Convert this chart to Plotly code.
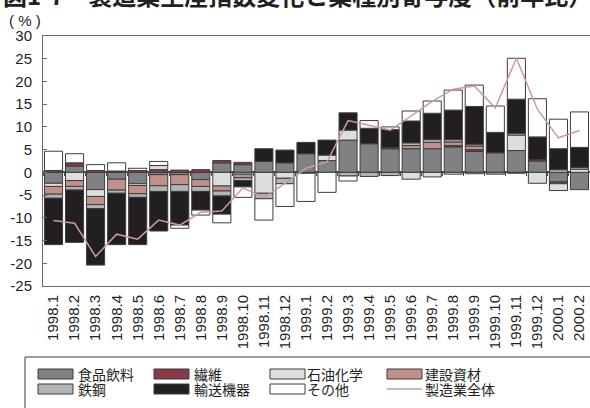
import plotly.graph_objects as go

# ---- data -------------------------------------------------------------
categories = ["1998.1", "1998.2", "1998.3", "1998.4", "1998.5", "1998.6",
              "1998.7", "1998.8", "1998.9", "1998.10", "1998.11", "1998.12",
              "1999.1", "1999.2", "1999.3", "1999.4", "1999.5", "1999.6",
              "1999.7", "1999.8", "1999.9", "1999.10", "1999.11", "1999.12",
              "2000.1", "2000.2"]

food = [-2.4, 1.4, -3.8, -1.5, -2.5, -0.5, -0.5, -1.6, 2.1, 1.7, 2.4, 2.1,
        4.1, 2.6, 7.1, 6.3, 5.2, 5.2, 5.2, 5.6, 4.6, 4.3, 4.8, 2.5, -2.1, -3.8]
textile = [0.4, 0.7, 0.4, 0.3, 0.4, 0.6, 0.5, 0.6, 0.5, 0.5, 0, 0,
           0, 0, 0, 0, 0.3, 0, 0, 0.3, 0.4, 0, 0, 0.3, -0.4, 0]
petrochem = [-0.7, -1.8, -1.5, 0, -0.4, 0.9, 0, 0, -3.0, -0.4, -4.6, -1.3,
             0, 1.2, 2.2, 0, 0, -1.5, -1.0, -0.4, -0.3, 0, 3.4, -2.4, -1.5, 0.7]
construction = [-1.7, -1.3, -1.8, -2.4, -1.8, -2.45, -2.2, -1.5, -1.1, -0.8, 0, 0,
                0, 0, 0, 0, 0, 0.7, 1.4, 0.8, 0.8, 0, -0.2, 0, 0, 0]
steel = [-0.9, -0.8, -0.9, -0.7, -0.8, -1.25, -1.5, -1.1, -1.1, -0.6, -1.2, -1.2,
         -0.2, 0, -0.8, -0.9, -0.7, 0.6, 0.6, 0.5, 0.4, -0.4, 0.4, 0, 0.6, 0.4]
transport = [-10.2, -11.5, -12.4, -11.3, -10.4, -8.7, -7.4, -4.1, -4.0, -1.4, 2.8, 2.8,
             2.5, 3.3, 3.8, 3.4, 3.9, 4.8, 5.8, 6.5, 8.3, 4.5, 7.5, 5.0, 4.6, 4.4]
other = [4.25, 2.0, 1.3, 1.8, 0.5, 0.9, -0.7, -1.1, -1.9, -2.3, -4.7, -5.0,
         -6.2, -4.4, -1.1, 1.7, 0.6, 2.2, 2.7, 4.4, 4.7, 5.8, 9.0, 8.4, 6.5, 7.8]
manufacturing_total = [-10.6, -11.2, -18.5, -13.6, -14.7, -10.5, -11.6, -8.8, -8.5,
                       -3.4, -5.5, -2.4, 0.9, 2.3, 11.4, 10.4, 9.3, 12.4, 15.6,
                       18.3, 19.0, 14.2, 25.1, 13.9, 7.6, 9.2]

series_names = ["食品飲料", "繊維", "石油化学", "建設資材", "鉄鋼", "輸送機器", "その他"]
series_values = [food, textile, petrochem, construction, steel, transport, other]
series_colors = ["#808184", "#8a3a47", "#dcdddd", "#c0908b", "#b3b4b5", "#231f20", "#ffffff"]
line_name = "製造業全体"
line_color = "#c99c96"

y_tickvals = [-25, -20, -15, -10, -5, 0, 5, 10, 15, 20, 25, 30]
y_ticktext = ["-25", "-20", "-15", "-10", "-5", "0", "5", "10", "15", "20", "25", "30"]

# ---- geometry (pixels) ------------------------------------------------
W, H = 590, 408
L, R, T, B = 43, 0, 36, 122
PW, PH = W - L - R, H - T - B


def px_x(px):
    return (px - L) / PW


def px_y(py):
    return (H - B - py) / PH


EDGE = "#3d3d3d"
CJK = "Noto Sans CJK JP"

fig = go.Figure()

for name, vals, col in zip(series_names, series_values, series_colors):
    fig.add_trace(go.Bar(
        x=categories,
        y=[v if v != 0 else None for v in vals],
        name=name,
        marker=dict(color=col, line=dict(color=EDGE, width=1)),
    ))

fig.add_trace(go.Scatter(
    x=categories, y=manufacturing_total, name=line_name, mode="lines",
    line=dict(color=line_color, width=1.5),
))

# tick marks along the zero line at category boundaries
fig.add_trace(go.Scatter(x=[None], y=[None], xaxis="x2", showlegend=False))

fig.update_layout(
    width=W, height=H,
    margin=dict(l=L, r=R, t=T, b=B, pad=0),
    paper_bgcolor="white", plot_bgcolor="white",
    barmode="relative", bargap=0.14,
    showlegend=False,
    font=dict(family="Liberation Sans, Arial, sans-serif", size=15, color="#231f20"),
    xaxis=dict(
        type="category", categoryorder="array", categoryarray=categories,
        tickangle=-90, tickfont=dict(size=15), ticks="",
        showline=True, linecolor="#6a6a6a", linewidth=1, mirror=True,
        showgrid=False, zeroline=False, ticklabelstandoff=2,
    ),
    xaxis2=dict(
        overlaying="x", anchor="free", position=25 / 55,
        range=[-0.5, len(categories) - 0.5],
        tickvals=[i - 0.5 for i in range(len(categories) + 1)],
        ticks="outside", ticklen=3, tickcolor="#4a4a4a", tickwidth=1,
        showticklabels=False, showline=False, showgrid=False, zeroline=False,
        layer="above traces",
    ),
    yaxis=dict(
        range=[-25, 30], tickvals=y_tickvals, ticktext=y_ticktext,
        ticks="inside", ticklen=4, tickcolor="#6a6a6a",
        showline=True, linecolor="#6a6a6a", linewidth=1, mirror=True,
        showgrid=False, zeroline=True, zerolinecolor="#4a4a4a", zerolinewidth=1.5,
        tickfont=dict(size=15), ticklabelstandoff=7, layer="above traces",
    ),
)

shapes = []
annotations = []

# legend frame
shapes.append(dict(type="rect", xref="paper", yref="paper",
                   x0=px_x(25), x1=px_x(595), y0=px_y(420), y1=px_y(357),
                   line=dict(color="#3a3a3a", width=1), fillcolor="rgba(0,0,0,0)"))

sym_x = [38, 154, 270, 387]
txt_x = [76, 192, 305, 423]
row_y = [374, 389]
legend_names = series_names + [line_name]
legend_colors = series_colors + [line_color]
for i, (nm, col) in enumerate(zip(legend_names, legend_colors)):
    r, c = divmod(i, 4)
    cy = row_y[r]
    if i < len(series_names):
        shapes.append(dict(type="rect", xref="paper", yref="paper",
                           x0=px_x(sym_x[c]), x1=px_x(sym_x[c] + 35),
                           y0=px_y(cy + 5), y1=px_y(cy - 5),
                           fillcolor=col, line=dict(color=EDGE, width=1)))
    else:
        shapes.append(dict(type="line", xref="paper", yref="paper",
                           x0=px_x(sym_x[c]), x1=px_x(sym_x[c] + 35),
                           y0=px_y(cy), y1=px_y(cy),
                           line=dict(color=col, width=1.5)))
    annotations.append(dict(xref="paper", yref="paper", x=px_x(txt_x[c]), y=px_y(cy),
                            text=nm, showarrow=False, xanchor="left", yanchor="middle",
                            font=dict(family=CJK, size=14, color="#231f20")))

# unit label
annotations.append(dict(xref="paper", yref="paper", x=px_x(25), y=px_y(21),
                        text="( % )", showarrow=False, xanchor="center", yanchor="middle",
                        font=dict(family="Liberation Sans, Arial, sans-serif", size=15,
                                  color="#231f20")))

# chart title (sits mostly above the page edge)
annotations.append(dict(xref="paper", yref="paper", x=px_x(1), y=px_y(-6),
                        text="<b>図1-7　製造業生産指数変化と業種別寄与度（前年比）</b>",
                        showarrow=False, xanchor="left", yanchor="middle",
                        font=dict(family=CJK, size=24, color="#231f20")))

fig.update_layout(shapes=shapes, annotations=annotations)

fig.write_html("out.html")
